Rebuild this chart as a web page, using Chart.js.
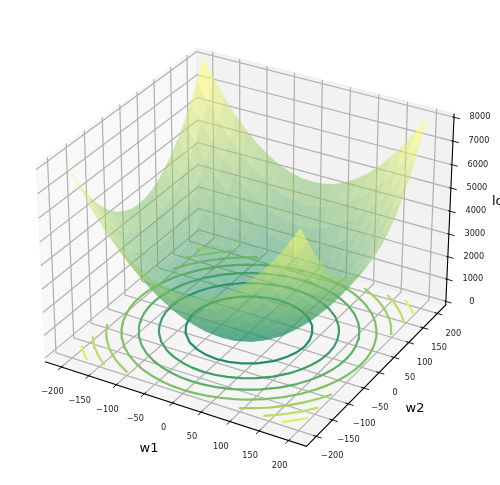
<!DOCTYPE html>
<html>
<head>
<meta charset="utf-8">
<title>loss surface</title>
<script src="https://cdn.jsdelivr.net/npm/chart.js@4"></script>
<style>
	html, body { margin: 0; padding: 0; background: #fff; }
	canvas { display: block; }
</style>
</head>
<body>
<canvas id="chart" width="500" height="485"></canvas>
<script>
const w1Values = [-200, -180, -160, -140, -120, -100, -80, -60, -40, -20, 0, 20, 40, 60, 80, 100, 120, 140, 160, 180, 200];
const w2Values = [-200, -180, -160, -140, -120, -100, -80, -60, -40, -20, 0, 20, 40, 60, 80, 100, 120, 140, 160, 180, 200];
// loss, one row per w2 value
const lossValues = [
	[8000, 7240, 6560, 5960, 5440, 5000, 4640, 4360, 4160, 4040, 4000, 4040, 4160, 4360, 4640, 5000, 5440, 5960, 6560, 7240, 8000],
	[7240, 6480, 5800, 5200, 4680, 4240, 3880, 3600, 3400, 3280, 3240, 3280, 3400, 3600, 3880, 4240, 4680, 5200, 5800, 6480, 7240],
	[6560, 5800, 5120, 4520, 4000, 3560, 3200, 2920, 2720, 2600, 2560, 2600, 2720, 2920, 3200, 3560, 4000, 4520, 5120, 5800, 6560],
	[5960, 5200, 4520, 3920, 3400, 2960, 2600, 2320, 2120, 2000, 1960, 2000, 2120, 2320, 2600, 2960, 3400, 3920, 4520, 5200, 5960],
	[5440, 4680, 4000, 3400, 2880, 2440, 2080, 1800, 1600, 1480, 1440, 1480, 1600, 1800, 2080, 2440, 2880, 3400, 4000, 4680, 5440],
	[5000, 4240, 3560, 2960, 2440, 2000, 1640, 1360, 1160, 1040, 1000, 1040, 1160, 1360, 1640, 2000, 2440, 2960, 3560, 4240, 5000],
	[4640, 3880, 3200, 2600, 2080, 1640, 1280, 1000, 800, 680, 640, 680, 800, 1000, 1280, 1640, 2080, 2600, 3200, 3880, 4640],
	[4360, 3600, 2920, 2320, 1800, 1360, 1000, 720, 520, 400, 360, 400, 520, 720, 1000, 1360, 1800, 2320, 2920, 3600, 4360],
	[4160, 3400, 2720, 2120, 1600, 1160, 800, 520, 320, 200, 160, 200, 320, 520, 800, 1160, 1600, 2120, 2720, 3400, 4160],
	[4040, 3280, 2600, 2000, 1480, 1040, 680, 400, 200, 80, 40, 80, 200, 400, 680, 1040, 1480, 2000, 2600, 3280, 4040],
	[4000, 3240, 2560, 1960, 1440, 1000, 640, 360, 160, 40, 0, 40, 160, 360, 640, 1000, 1440, 1960, 2560, 3240, 4000],
	[4040, 3280, 2600, 2000, 1480, 1040, 680, 400, 200, 80, 40, 80, 200, 400, 680, 1040, 1480, 2000, 2600, 3280, 4040],
	[4160, 3400, 2720, 2120, 1600, 1160, 800, 520, 320, 200, 160, 200, 320, 520, 800, 1160, 1600, 2120, 2720, 3400, 4160],
	[4360, 3600, 2920, 2320, 1800, 1360, 1000, 720, 520, 400, 360, 400, 520, 720, 1000, 1360, 1800, 2320, 2920, 3600, 4360],
	[4640, 3880, 3200, 2600, 2080, 1640, 1280, 1000, 800, 680, 640, 680, 800, 1000, 1280, 1640, 2080, 2600, 3200, 3880, 4640],
	[5000, 4240, 3560, 2960, 2440, 2000, 1640, 1360, 1160, 1040, 1000, 1040, 1160, 1360, 1640, 2000, 2440, 2960, 3560, 4240, 5000],
	[5440, 4680, 4000, 3400, 2880, 2440, 2080, 1800, 1600, 1480, 1440, 1480, 1600, 1800, 2080, 2440, 2880, 3400, 4000, 4680, 5440],
	[5960, 5200, 4520, 3920, 3400, 2960, 2600, 2320, 2120, 2000, 1960, 2000, 2120, 2320, 2600, 2960, 3400, 3920, 4520, 5200, 5960],
	[6560, 5800, 5120, 4520, 4000, 3560, 3200, 2920, 2720, 2600, 2560, 2600, 2720, 2920, 3200, 3560, 4000, 4520, 5120, 5800, 6560],
	[7240, 6480, 5800, 5200, 4680, 4240, 3880, 3600, 3400, 3280, 3240, 3280, 3400, 3600, 3880, 4240, 4680, 5200, 5800, 6480, 7240],
	[8000, 7240, 6560, 5960, 5440, 5000, 4640, 4360, 4160, 4040, 4000, 4040, 4160, 4360, 4640, 5000, 5440, 5960, 6560, 7240, 8000],
];
const contourLevels = [1000, 2000, 3000, 4000, 5000, 6000, 7000];
const w1Ticks = [-200, -150, -100, -50, 0, 50, 100, 150, 200];
const w2Ticks = [-200, -150, -100, -50, 0, 50, 100, 150, 200];
const lossTicks = [0, 1000, 2000, 3000, 4000, 5000, 6000, 7000, 8000];

const wLim = 230;
const lossMin = -160;
const lossMax = 8160;
const lossTop = 8000; // top of the contour colours
const surfaceGain = 1.025; // the surface sits a little higher against the z ticks

// camera, elev 30 azim -60 like a default 3d axes
const boxX = 0.5714;
const boxZ = 0.4286;
const camDist = 10;
const camU = [0.866, 0.5, 0];
const camV = [-0.25, 0.433, 0.866];
const camD = [0.433, -0.75, 0.5];
const screen = { sx: 2620, ox: 249, sy: 2610, oy: 238 };

function camera(w1, w2, loss) {
	const p = [
		(w1 / wLim) * boxX,
		(w2 / wLim) * boxX,
		(((loss - lossMin) / (lossMax - lossMin)) * 2 - 1) * boxZ,
	];
	const dot = (a) => a[0] * p[0] + a[1] * p[1] + a[2] * p[2];
	return { u: dot(camU), v: dot(camV), depth: camDist - dot(camD) };
}

function project(w1, w2, loss) {
	const c = camera(w1, w2, loss);
	return { x: screen.ox + (screen.sx * c.u) / c.depth, y: screen.oy - (screen.sy * c.v) / c.depth };
}

function summer(t, alpha) {
	const r = Math.round(255 * t);
	const g = Math.round(255 * (0.5 + 0.5 * t));
	return `rgba(${r}, ${g}, 102, ${alpha})`;
}

const gap = { x: NaN, y: NaN };
const layers = []; // pushed back to front

function addLine(data, color, width, cap) {
	layers.push({
		data,
		showLine: true,
		fill: false,
		borderColor: color,
		borderWidth: width,
		borderCapStyle: cap || 'butt',
		pointRadius: 0,
		tension: 0,
	});
}

function addPolygon(points, fillColor, edgeColor, edgeWidth) {
	layers.push({
		data: [...points, points[0]],
		showLine: true,
		fill: 'shape',
		backgroundColor: fillColor,
		borderColor: edgeColor,
		borderWidth: edgeWidth,
		pointRadius: 0,
		tension: 0,
	});
}

// panes
addPolygon(
	[project(-wLim, -wLim, lossMin), project(-wLim, wLim, lossMin), project(-wLim, wLim, lossMax), project(-wLim, -wLim, lossMax)],
	'rgba(242, 242, 242, 0.5)', 'rgba(242, 242, 242, 0.5)', 1
);
addPolygon(
	[project(-wLim, wLim, lossMin), project(wLim, wLim, lossMin), project(wLim, wLim, lossMax), project(-wLim, wLim, lossMax)],
	'rgba(230, 230, 230, 0.5)', 'rgba(230, 230, 230, 0.5)', 1
);
addPolygon(
	[project(-wLim, -wLim, lossMin), project(wLim, -wLim, lossMin), project(wLim, wLim, lossMin), project(-wLim, wLim, lossMin)],
	'rgba(236, 236, 236, 0.5)', 'rgba(236, 236, 236, 0.5)', 1
);

// grid lines
const gridColor = '#b0b0b0';
const gridWidth = 1.2;
w1Ticks.forEach((t) => {
	addLine([project(t, -wLim, lossMin), project(t, wLim, lossMin), project(t, wLim, lossMax)], gridColor, gridWidth);
});
w2Ticks.forEach((t) => {
	addLine([project(wLim, t, lossMin), project(-wLim, t, lossMin), project(-wLim, t, lossMax)], gridColor, gridWidth);
});
lossTicks.forEach((t) => {
	addLine([project(-wLim, -wLim, t), project(-wLim, wLim, t), project(wLim, wLim, t)], gridColor, gridWidth);
});

// contour lines on the floor, from the loss table
function contourSegments(level) {
	const out = [];
	const cross = (w1a, w2a, va, w1b, w2b, vb) => {
		const f = (level - va) / (vb - va);
		return project(w1a + f * (w1b - w1a), w2a + f * (w2b - w2a), 0);
	};
	for (let j = 0; j < w2Values.length - 1; j++) {
		for (let i = 0; i < w1Values.length - 1; i++) {
			const x0 = w1Values[i], x1 = w1Values[i + 1], y0 = w2Values[j], y1 = w2Values[j + 1];
			const a = lossValues[j][i], b = lossValues[j][i + 1], c = lossValues[j + 1][i + 1], d = lossValues[j + 1][i];
			const pts = [];
			if (a >= level !== b >= level) pts.push(cross(x0, y0, a, x1, y0, b));
			if (b >= level !== c >= level) pts.push(cross(x1, y0, b, x1, y1, c));
			if (c >= level !== d >= level) pts.push(cross(x1, y1, c, x0, y1, d));
			if (d >= level !== a >= level) pts.push(cross(x0, y1, d, x0, y0, a));
			if (pts.length === 2) out.push(pts[0], pts[1], gap);
		}
	}
	return out;
}
contourLevels.forEach((level) => {
	addLine(contourSegments(level), summer(level / lossTop, 1), 2.2, 'round');
});

// surface cells, far ones first
const cells = [];
for (let j = 0; j < w2Values.length - 1; j++) {
	for (let i = 0; i < w1Values.length - 1; i++) {
		const corners = [
			[w1Values[i], w2Values[j], lossValues[j][i]],
			[w1Values[i + 1], w2Values[j], lossValues[j][i + 1]],
			[w1Values[i + 1], w2Values[j + 1], lossValues[j + 1][i + 1]],
			[w1Values[i], w2Values[j + 1], lossValues[j + 1][i]],
		];
		const mean = corners.reduce((s, c) => s + c[2], 0) / 4;
		const depth = corners.reduce((s, c) => s + camera(c[0], c[1], c[2]).depth, 0) / 4;
		cells.push({ corners, mean, depth });
	}
}
// faces take their colour from the range of the cell means
const meanLow = Math.min(...cells.map((c) => c.mean));
const meanHigh = Math.max(...cells.map((c) => c.mean));
cells.sort((a, b) => b.depth - a.depth);
cells.forEach((cell) => {
	const t = (cell.mean - meanLow) / (meanHigh - meanLow);
	addPolygon(cell.corners.map((c) => project(c[0], c[1], c[2] * surfaceGain)), summer(t, 0.5), 'rgba(0, 0, 0, 0)', 0);
});

// axis lines and tick marks
const axisColor = '#000';
addLine([project(-wLim, -wLim, lossMin), project(wLim, -wLim, lossMin), project(wLim, wLim, lossMin), project(wLim, wLim, lossMax)], axisColor, 1.1);
const tickMarks = [];
w1Ticks.forEach((t) => tickMarks.push(project(t, -wLim + 5, lossMin), project(t, -wLim - 9, lossMin), gap));
w2Ticks.forEach((t) => tickMarks.push(project(wLim - 5, t, lossMin), project(wLim + 9, t, lossMin), gap));
lossTicks.forEach((t) => tickMarks.push(project(wLim - 3, wLim, t), project(wLim + 10, wLim, t), gap));
addLine(tickMarks, axisColor, 0.9);

const textPlugin = {
	id: 'axisText',
	afterDraw(chart) {
		const { ctx, scales } = chart;
		const put = (text, px, py, size, align) => {
			ctx.font = `${size}px "DejaVu Sans"`;
			ctx.textAlign = align || 'center';
			ctx.fillText(text, scales.x.getPixelForValue(px), scales.y.getPixelForValue(py));
		};
		const label = (n) => String(n).replace('-', '\u2212');
		ctx.save();
		ctx.fillStyle = '#1a1a1a';
		ctx.textBaseline = 'middle';
		w1Ticks.forEach((t) => {
			const p = project(t, -wLim, lossMin);
			put(label(t), p.x - 9, p.y + 25, 8.2);
		});
		w2Ticks.forEach((t) => {
			const p = project(wLim, t, lossMin);
			put(label(t), p.x + 16, p.y + 20, 8.2);
		});
		lossTicks.forEach((t) => {
			const p = project(wLim, wLim, t);
			put(label(t), p.x + 26, p.y, 8.2);
		});
		ctx.fillStyle = '#000';
		put('w1', 149, 449, 13);
		put('w2', 415, 409, 13);
		put('loss', 492, 202, 13, 'left');
		ctx.restore();
	},
};

new Chart(document.getElementById('chart'), {
	type: 'scatter',
	data: { datasets: layers.reverse() }, // chart.js paints the first dataset last
	options: {
		responsive: false,
		animation: false,
		events: [],
		clip: false,
		layout: { padding: 0 },
		plugins: { legend: { display: false }, tooltip: { enabled: false } },
		scales: {
			x: { type: 'linear', display: false, min: 0, max: 500 },
			y: { type: 'linear', display: false, min: 0, max: 485, reverse: true },
		},
	},
	plugins: [textPlugin],
});
</script>
</body>
</html>
